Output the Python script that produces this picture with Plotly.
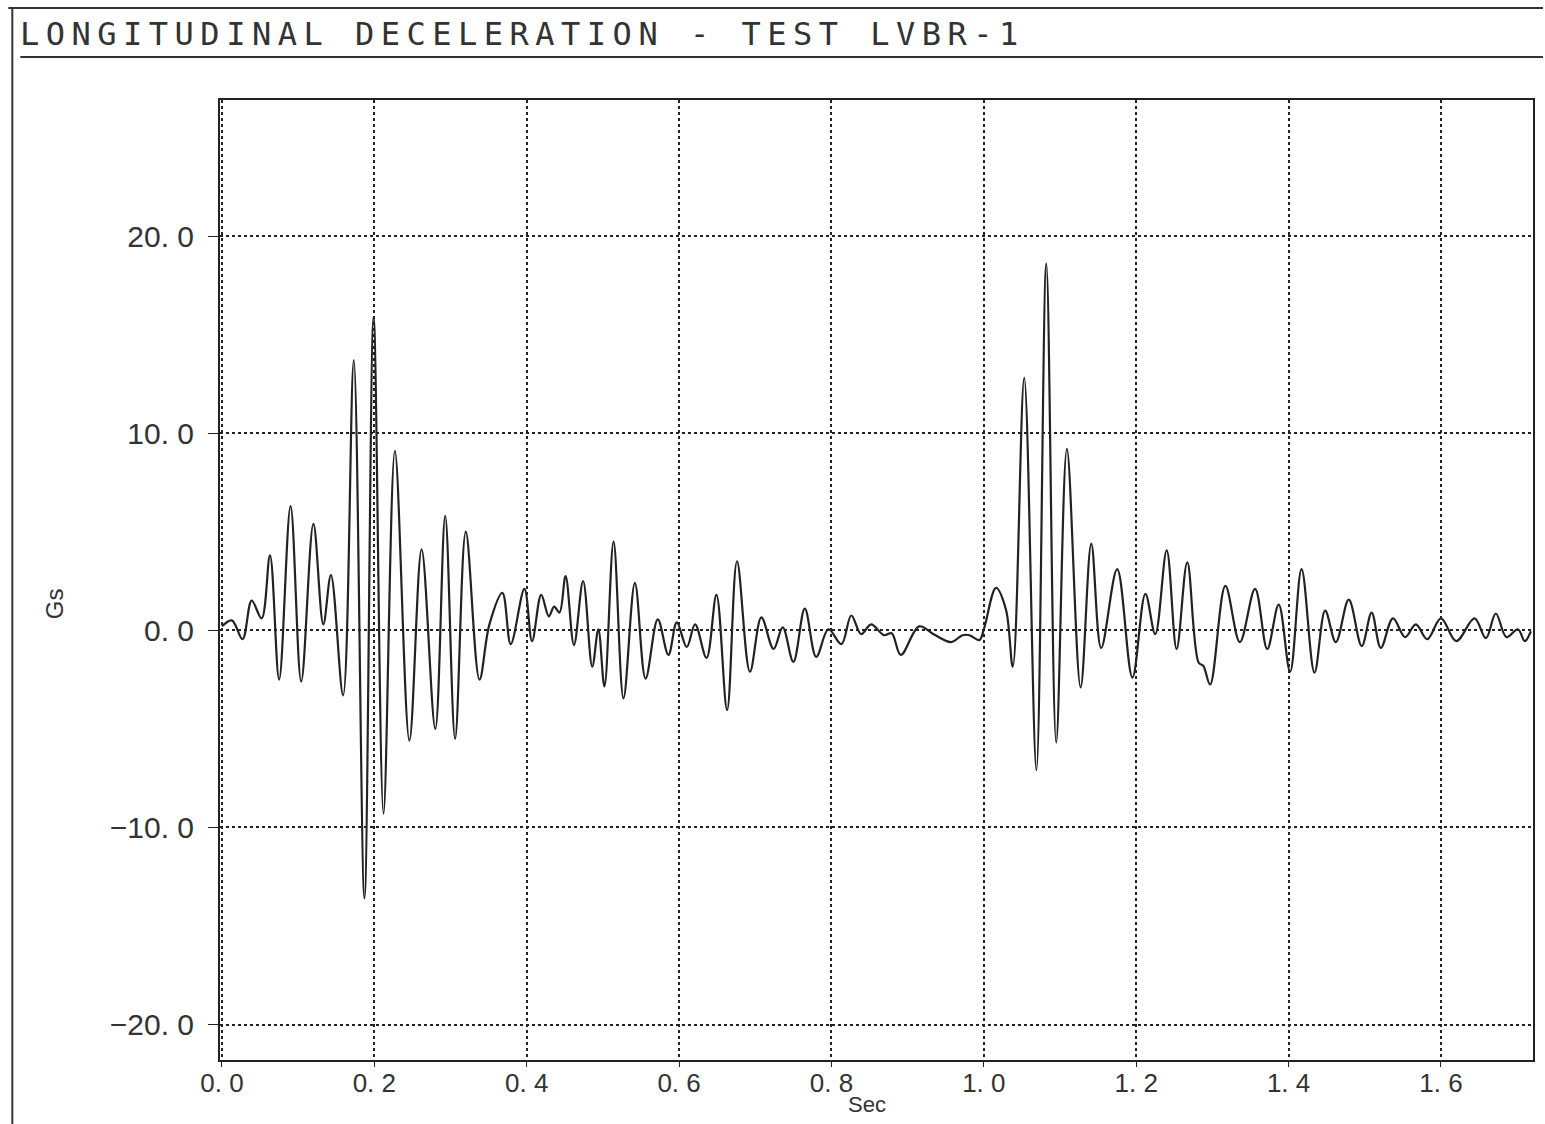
import plotly.graph_objects as go

# Time (s) and deceleration (G) (extrema / shape points)
time_s = [0.000, 0.013, 0.027, 0.039, 0.052, 0.063, 0.075, 0.090, 0.104, 0.120,
          0.133, 0.143, 0.159, 0.173, 0.187, 0.199, 0.212, 0.227, 0.246, 0.262,
          0.280, 0.293, 0.306, 0.320, 0.338, 0.351, 0.368, 0.379, 0.397, 0.407,
          0.419, 0.429, 0.436, 0.443, 0.451, 0.462, 0.474, 0.486, 0.494, 0.502,
          0.514, 0.527, 0.542, 0.556, 0.572, 0.586, 0.597, 0.610, 0.621, 0.636,
          0.649, 0.663, 0.676, 0.693, 0.708, 0.724, 0.736, 0.750, 0.765, 0.780,
          0.796, 0.813, 0.826, 0.839, 0.852, 0.869, 0.879, 0.891, 0.915, 0.934,
          0.957, 0.972, 0.981, 0.994, 1.000, 1.016, 1.029, 1.038, 1.053, 1.069,
          1.082, 1.095, 1.109, 1.127, 1.141, 1.154, 1.175, 1.195, 1.212, 1.225,
          1.240, 1.253, 1.267, 1.282, 1.288, 1.297, 1.317, 1.336, 1.356, 1.372,
          1.387, 1.402, 1.417, 1.434, 1.448, 1.462, 1.479, 1.496, 1.509, 1.521,
          1.537, 1.553, 1.567, 1.582, 1.600, 1.620, 1.644, 1.659, 1.672, 1.686,
          1.701, 1.710, 1.718]
decel_g = [0.2, 0.5, -0.45, 1.5, 0.6, 3.8, -2.5, 6.3, -2.6, 5.4,
           0.3, 2.8, -3.3, 13.7, -13.6, 15.9, -9.3, 9.1, -5.6, 4.1,
           -5.0, 5.8, -5.5, 5.0, -2.5, 0.3, 1.9, -0.7, 2.1, -0.55,
           1.8, 0.7, 1.2, 0.9, 2.75, -0.75, 2.5, -1.85, 0.05, -2.85,
           4.5, -3.45, 2.4, -2.45, 0.55, -1.25, 0.4, -0.85, 0.3, -1.4,
           1.8, -4.05, 3.5, -2.1, 0.65, -0.95, 0.15, -1.6, 1.1, -1.35,
           0.05, -0.7, 0.75, -0.2, 0.3, -0.25, -0.15, -1.25, 0.2, -0.2,
           -0.6, -0.25, -0.25, -0.5, 0.05, 2.15, 1.05, -1.85, 12.8, -7.1,
           18.6, -5.7, 9.2, -2.9, 4.4, -0.9, 3.1, -2.4, 1.85, -0.2,
           4.05, -0.95, 3.45, -1.65, -1.8, -2.75, 2.25, -0.6, 2.1, -0.95,
           1.3, -2.1, 3.1, -2.15, 1.0, -0.6, 1.55, -0.8, 0.9, -0.9,
           0.6, -0.35, 0.3, -0.45, 0.6, -0.55, 0.6, -0.4, 0.85, -0.35,
           0.05, -0.55, -0.05]

x_tick_vals = [0.0, 0.2, 0.4, 0.6, 0.8, 1.0, 1.2, 1.4, 1.6]
x_tick_text = ["0. 0", "0. 2", "0. 4", "0. 6", "0. 8", "1. 0", "1. 2", "1. 4", "1. 6"]
y_tick_vals = [-20, -10, 0, 10, 20]
y_tick_text = ["\u221220. 0", "\u221210. 0", "0. 0", "10. 0", "20. 0"]

title_text = "LONGITUDINAL DECELERATION - TEST LVBR-1"

W, H = 1545, 1124
L, R, T, B = 220, 10, 100, 64
pw, ph = W - L - R, H - T - B


def px(x):
    return (x - L) / pw


def py(y):
    return (H - B - y) / ph


fig = go.Figure()
fig.add_trace(go.Scatter(
    x=time_s, y=decel_g, mode="lines",
    line=dict(color="#222222", width=2.2, shape="spline", smoothing=1.0),
    showlegend=False, hoverinfo="skip"))

xfont = dict(family="Liberation Sans, Arial, sans-serif", size=26, color="#333333")
yfont = dict(family="Liberation Sans, Arial, sans-serif", size=30, color="#333333")

fig.update_layout(
    width=W, height=H,
    margin=dict(l=L, r=R, t=T, b=B),
    paper_bgcolor="white", plot_bgcolor="white",
    xaxis=dict(range=[-0.0026, 1.7208], tickvals=x_tick_vals, ticktext=x_tick_text,
               showgrid=True, gridcolor="#222222", griddash="dot", gridwidth=1.5,
               zeroline=False, showline=True, linecolor="#222222", linewidth=2,
               mirror=True, ticks="outside", ticklen=5, tickcolor="#222222",
               tickfont=xfont, ticklabelstandoff=-6),
    yaxis=dict(range=[-21.8, 26.9], tickvals=y_tick_vals, ticktext=y_tick_text,
               showgrid=True, gridcolor="#222222", griddash="dot", gridwidth=1.5,
               zeroline=False, showline=True, linecolor="#222222", linewidth=2,
               mirror=True, ticks="outside", ticklen=10, tickcolor="#222222",
               tickfont=yfont, ticklabelstandoff=8),
)

# outer frame and title rule
line_style = dict(color="#333333", width=2)
fig.add_shape(type="line", xref="paper", yref="paper",
              x0=px(8), x1=px(W), y0=py(8), y1=py(8), line=line_style)
fig.add_shape(type="line", xref="paper", yref="paper",
              x0=px(12), x1=px(12), y0=py(8), y1=py(H), line=line_style)
fig.add_shape(type="line", xref="paper", yref="paper",
              x0=px(20), x1=px(W), y0=py(57), y1=py(57), line=line_style)

fig.add_annotation(
    text='<span style="letter-spacing:6.5px">' + title_text + '</span>',
    xref="paper", yref="paper", x=px(18), y=py(34),
    xanchor="left", yanchor="middle", showarrow=False,
    font=dict(family="DejaVu Sans Mono, monospace", size=32, color="#333333"))

fig.add_annotation(
    text="Gs", xref="paper", yref="paper", x=px(54), y=py(604),
    textangle=-90, xanchor="center", yanchor="middle", showarrow=False,
    font=dict(family="Liberation Sans, Arial, sans-serif", size=24, color="#333333"))

fig.add_annotation(
    text="Sec", xref="paper", yref="paper", x=px(868), y=py(1104),
    xanchor="center", yanchor="middle", showarrow=False,
    font=dict(family="Liberation Sans Narrow, Liberation Sans, sans-serif", size=22,
              color="#333333"))

fig.write_html("out.html", config={"displayModeBar": False},
               post_script="document.body.style.margin='0';")
